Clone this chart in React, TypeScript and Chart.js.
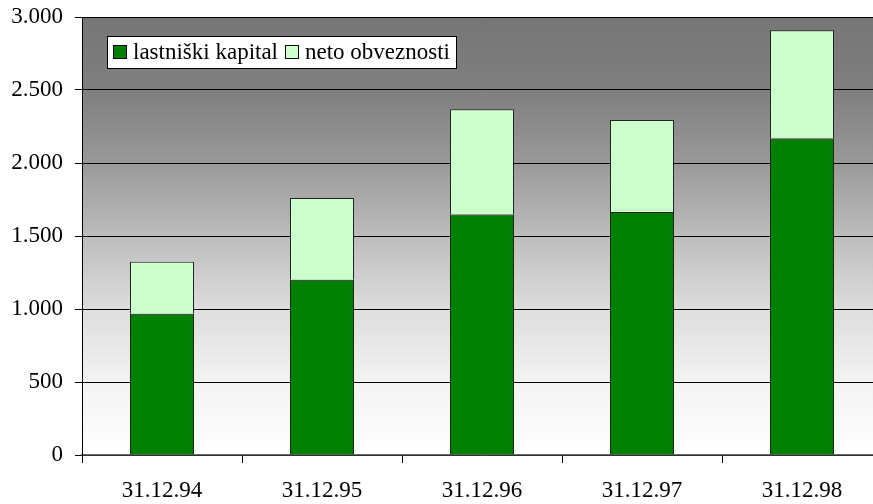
import React, { useEffect, useRef } from "react";
import { Chart, registerables } from "chart.js";

Chart.register(...registerables);

const categories = ["31.12.94", "31.12.95", "31.12.96", "31.12.97", "31.12.98"];
const seriesNames = ["lastniški kapital", "neto obveznosti"];
const lastniskiKapital = [968, 1200, 1647, 1665, 2167];
const netoObveznosti = [355, 560, 721, 630, 742];
const yTickValues = [0, 500, 1000, 1500, 2000, 2500, 3000];

const FONT = "Liberation Serif";

function fmt(v: number): string {
  const s = Math.round(v).toString();
  return s.replace(/\B(?=(\d{3})+(?!\d))/g, ".");
}

const bgPlugin = {
  id: "bgGradient",
  beforeDraw(chart: any) {
    const { ctx, chartArea } = chart;
    const { left, top, right, bottom } = chartArea;
    const g = ctx.createLinearGradient(0, top, 0, bottom);
    g.addColorStop(0, "#767676");
    g.addColorStop(1 / 6, "#7f7f7f");
    g.addColorStop(2 / 6, "#999999");
    g.addColorStop(3 / 6, "#bcbcbc");
    g.addColorStop(4 / 6, "#dddddd");
    g.addColorStop(5 / 6, "#f3f3f3");
    g.addColorStop(1, "#ffffff");
    ctx.save();
    ctx.fillStyle = g;
    ctx.fillRect(left, top, right - left, bottom - top);
    ctx.restore();
  },
};

const legendPlugin = {
  id: "insideLegend",
  afterDraw(chart: any) {
    const { ctx } = chart;
    ctx.save();
    ctx.fillStyle = "#ffffff";
    ctx.fillRect(107, 36, 349, 32);
    ctx.strokeStyle = "#000000";
    ctx.lineWidth = 1;
    ctx.strokeRect(107.5, 36.5, 349, 32);
    const colors = ["#008000", "#ccffcc"];
    const swatchX = [113, 285];
    ctx.font = `23px "${FONT}"`;
    ctx.textBaseline = "middle";
    seriesNames.forEach((name, i) => {
      ctx.fillStyle = colors[i];
      ctx.fillRect(swatchX[i], 45, 14, 14);
      ctx.strokeStyle = "#000";
      ctx.strokeRect(swatchX[i] + 0.5, 45.5, 13, 13);
      ctx.fillStyle = "#000";
      ctx.fillText(name, swatchX[i] + 20, 53);
    });
    ctx.restore();
  },
};

export default function App() {
  const ref = useRef<HTMLCanvasElement>(null);
  useEffect(() => {
    if (!ref.current) return;
    let chart: any = null;
    let cancelled = false;
    const make = () => {
      if (cancelled || !ref.current) return;
      chart = new Chart(ref.current, {
        type: "bar",
        data: {
          labels: categories,
          datasets: [
            {
              label: seriesNames[0],
              data: lastniskiKapital,
              backgroundColor: "#008000",
              borderColor: "#222222",
              borderWidth: 1,
              barPercentage: 0.4,
              categoryPercentage: 1,
            },
            {
              label: seriesNames[1],
              data: netoObveznosti,
              backgroundColor: "#ccffcc",
              borderColor: "#222222",
              borderWidth: 1,
              barPercentage: 0.4,
              categoryPercentage: 1,
            },
          ],
        },
        options: {
          responsive: false,
          animation: false,
          devicePixelRatio: 1,
          layout: { padding: { top: 17, right: 0, left: 0, bottom: 0 } },
          plugins: { legend: { display: false }, tooltip: { enabled: false } },
          scales: {
            x: {
              stacked: true,
              offset: true,
              afterFit: (s: any) => {
                s.height = 49;
                s.paddingLeft = 0;
                s.paddingRight = 0;
              },
              grid: {
                display: true,
                offset: true,
                drawOnChartArea: false,
                drawTicks: true,
                tickLength: 8,
                color: "#000000",
              },
              border: { display: true, color: "#666666", width: 1.5 },
              ticks: {
                color: "#000",
                font: { family: FONT, size: 23 },
                padding: 14,
                maxRotation: 0,
                autoSkip: false,
              },
            },
            y: {
              stacked: true,
              min: 0,
              max: 3000,
              afterFit: (s: any) => {
                s.width = 82;
                s.paddingTop = 0;
                s.paddingBottom = 0;
              },
              afterBuildTicks: (s: any) => {
                s.ticks = yTickValues.map((v) => ({ value: v }));
              },
              grid: {
                color: "#000000",
                lineWidth: 1,
                drawTicks: true,
                tickLength: 7,
              },
              border: { display: true, color: "#000000", width: 1 },
              ticks: {
                color: "#000",
                font: { family: FONT, size: 23 },
                padding: 12,
                callback: (v: any) => fmt(Number(v)),
              },
            },
          },
        },
        plugins: [bgPlugin, legendPlugin],
      });
    };
    const fonts: any = (document as any).fonts;
    if (fonts && fonts.load) {
      fonts.load(`23px "${FONT}"`).then(make, make);
    } else {
      make();
    }
    return () => {
      cancelled = true;
      if (chart) chart.destroy();
    };
  }, []);
  return (
    <div
      style={{
        position: "fixed",
        left: 0,
        top: 0,
        width: 873,
        height: 504,
        overflow: "hidden",
        background: "#fff",
      }}
    >
      <canvas ref={ref} width={882} height={504} style={{ display: "block" }} />
    </div>
  );
}
